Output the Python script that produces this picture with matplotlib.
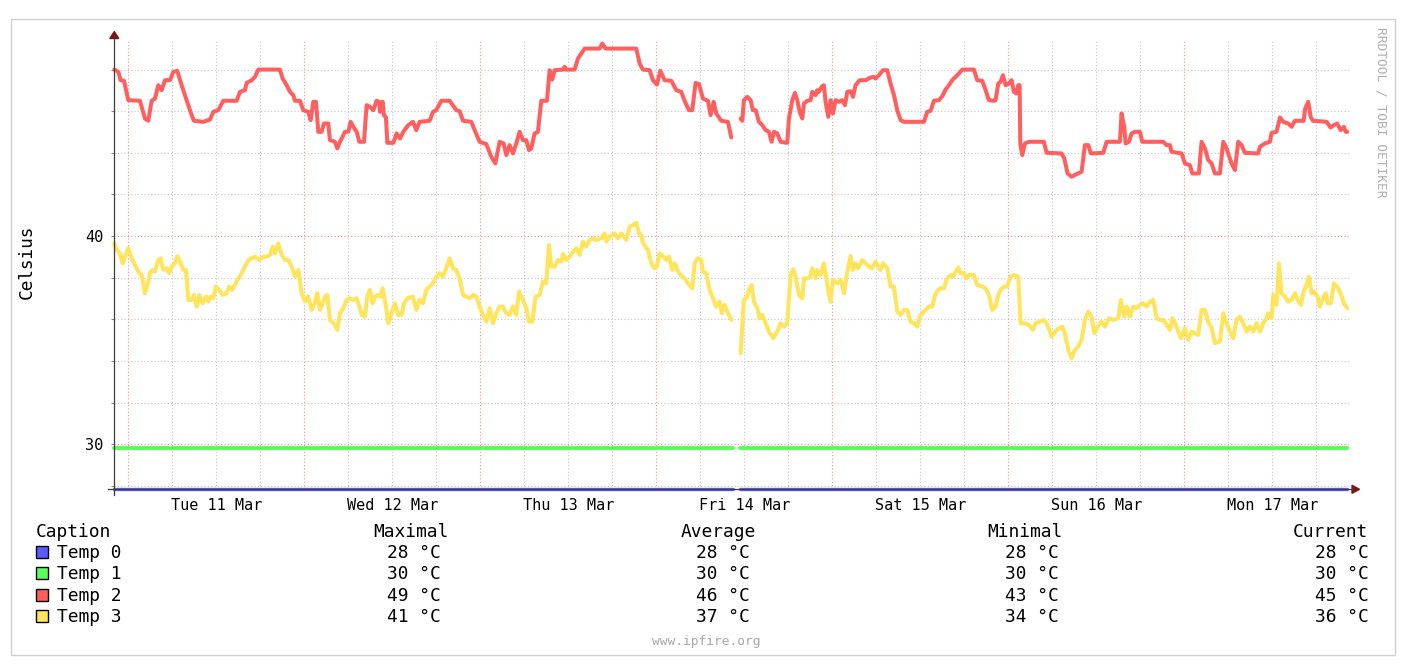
import numpy as np
import matplotlib
matplotlib.use("Agg")
import matplotlib.pyplot as plt
from matplotlib.patches import Rectangle, Polygon
from matplotlib.lines import Line2D

W, H = 1420, 664
GAP = np.nan

# hours since Tue 11 Mar 00:00, temperature in Celsius
temp0 = [(-1.91, 27.84), (82.45, 27.84), (82.9, GAP), (83.45, 27.84), (166.23, 27.84)]
temp1 = [(-1.91, 29.81), (82.45, 29.81), (82.9, GAP), (83.45, 29.81), (166.23, 29.81)]

temp2 = [
    (-1.91, 48.0), (-1.36, 47.89), (-1.05, 47.49), (-0.59, 47.46), (0.0, 46.53), (1.59, 46.5), (2.27, 45.65),
    (2.73, 45.54), (3.18, 46.5), (3.64, 46.61), (4.09, 47.25), (4.55, 47.01), (5.0, 47.49), (5.68, 47.49),
    (6.14, 47.89), (6.68, 47.94), (7.27, 47.25), (7.73, 46.77), (8.18, 46.29), (8.64, 45.81), (8.95, 45.54),
    (10.23, 45.49), (11.14, 45.6), (11.59, 45.97), (12.27, 46.05), (12.95, 46.5), (14.77, 46.5), (15.23, 46.93),
    (15.91, 47.01), (16.14, 47.36), (16.82, 47.49), (17.27, 47.65), (17.73, 48.0), (20.68, 48.0), (21.05, 47.57),
    (21.59, 47.25), (22.05, 46.93), (22.5, 46.77), (22.73, 46.5), (23.41, 46.5), (23.86, 46.05), (24.55, 45.97),
    (24.86, 45.57), (25.23, 46.45), (25.59, 46.45), (25.91, 45.01), (26.36, 45.01), (26.68, 45.41), (27.27, 45.41),
    (27.5, 44.61), (28.18, 44.53), (28.5, 44.21), (28.86, 44.53), (29.55, 45.01), (30.0, 45.01), (30.32, 45.49),
    (30.68, 45.25), (31.14, 45.01), (31.5, 44.53), (32.14, 44.53), (32.5, 46.29), (32.95, 46.21), (33.41, 46.05),
    (33.86, 46.5), (34.23, 46.45), (34.32, 45.97), (34.68, 46.45), (34.86, 45.81), (35.14, 45.7), (35.32, 44.48),
    (36.14, 44.48), (36.59, 44.93), (37.05, 44.69), (37.5, 45.01), (38.18, 45.33), (38.82, 45.49), (39.27, 45.09),
    (39.73, 45.49), (41.09, 45.54), (41.55, 45.97), (42.0, 46.05), (42.68, 46.5), (43.82, 46.5), (44.73, 46.05),
    (45.18, 46.0), (45.64, 45.54), (46.77, 45.49), (47.23, 45.09), (47.91, 44.53), (48.82, 44.42), (49.5, 43.81),
    (50.05, 43.49), (50.41, 44.13), (50.64, 44.53), (51.18, 44.45), (51.55, 43.89), (52.0, 44.37), (52.45, 43.97),
    (52.91, 44.45), (53.36, 45.01), (53.82, 44.61), (54.27, 44.61), (54.64, 44.13), (54.95, 44.21), (55.41, 44.93),
    (55.86, 45.01), (56.32, 46.5), (57.09, 46.5), (57.45, 47.97), (57.82, 47.52), (58.14, 47.97), (59.27, 48.0),
    (59.5, 48.13), (59.73, 48.0), (60.86, 48.0), (61.32, 48.53), (61.77, 48.77), (62.23, 49.01), (64.27, 49.01),
    (64.64, 49.25), (65.09, 49.01), (69.27, 49.01), (69.73, 48.29), (70.18, 48.0), (71.09, 47.97), (71.55, 47.49),
    (72.09, 47.28), (72.55, 47.94), (73.14, 47.49), (74.05, 47.46), (74.73, 47.01), (75.41, 46.93), (75.86, 46.5),
    (76.45, 46.05), (76.91, 46.05), (77.36, 47.36), (77.82, 47.3), (78.36, 46.61), (79.05, 46.5), (79.41, 45.81),
    (79.82, 46.45), (80.18, 45.89), (80.86, 45.54), (81.77, 45.49), (82.23, 44.74), (82.9, GAP),
    (83.5, 45.65), (83.73, 45.54), (83.95, 46.53), (84.41, 46.69), (84.86, 46.53), (85.18, 46.05), (85.55, 46.05),
    (86.0, 45.49), (86.45, 45.33), (86.91, 45.09), (87.36, 45.01), (87.73, 44.53), (88.05, 45.01), (88.5, 44.93),
    (88.95, 44.53), (89.86, 44.48), (90.09, 45.65), (90.55, 46.53), (90.91, 46.88), (91.23, 46.53), (91.55, 45.97),
    (91.91, 45.65), (92.14, 46.37), (92.59, 46.5), (93.05, 46.53), (93.27, 46.93), (93.73, 46.77), (93.95, 47.01),
    (94.18, 46.93), (94.55, 47.17), (94.86, 47.25), (95.09, 46.45), (95.45, 45.73), (95.77, 46.53), (96.09, 45.89),
    (96.45, 46.53), (96.91, 46.45), (97.36, 46.53), (97.73, 46.29), (98.05, 46.93), (98.5, 46.96), (98.82, 46.69),
    (99.18, 47.25), (99.73, 47.49), (100.55, 47.49), (101.23, 47.62), (101.68, 47.65), (101.91, 47.57),
    (102.36, 47.73), (102.91, 47.97), (103.5, 47.97), (103.95, 47.33), (104.41, 46.77), (104.86, 46.05),
    (105.32, 45.57), (105.77, 45.49), (108.5, 45.49), (108.95, 45.97), (109.41, 46.02), (109.86, 46.5),
    (110.55, 46.53), (111.0, 46.72), (111.45, 47.04), (111.91, 47.25), (112.36, 47.49), (112.82, 47.65),
    (113.27, 47.81), (113.73, 48.0), (115.32, 48.0), (115.77, 47.49), (116.45, 47.46), (116.91, 47.01),
    (117.36, 46.53), (118.05, 46.5), (118.27, 46.53), (118.64, 47.33), (118.95, 47.41), (119.27, 47.73),
    (119.64, 47.25), (120.09, 47.33), (120.45, 47.49), (120.77, 46.93), (121.09, 46.85), (121.36, 47.25),
    (121.55, 47.25), (121.64, 44.45), (121.91, 43.89), (122.27, 44.45), (122.82, 44.53), (124.86, 44.53),
    (125.23, 44.0), (127.27, 43.97), (127.64, 43.73), (128.09, 43.01), (128.64, 42.85), (129.32, 42.98),
    (130.0, 43.09), (130.45, 44.37), (130.91, 44.37), (131.27, 43.97), (132.95, 44.0), (133.41, 44.53),
    (135.23, 44.53), (135.45, 45.89), (135.82, 45.25), (136.0, 44.45), (136.45, 44.53), (136.82, 44.93),
    (137.27, 45.01), (137.95, 45.01), (138.27, 44.53), (141.14, 44.53), (141.59, 44.37), (142.05, 44.37),
    (142.27, 44.05), (143.64, 43.97), (144.09, 43.49), (144.77, 43.41), (145.09, 43.01), (146.0, 43.01),
    (146.36, 44.53), (146.82, 44.21), (147.27, 43.65), (147.73, 43.49), (148.18, 43.01), (148.86, 43.01),
    (149.32, 44.53), (149.77, 44.21), (150.45, 43.49), (150.91, 43.17), (151.36, 44.53), (151.82, 44.37),
    (152.27, 44.0), (154.09, 43.97), (154.32, 44.29), (155.0, 44.45), (155.68, 44.53), (155.91, 44.96),
    (156.59, 45.01), (157.05, 45.7), (157.5, 45.49), (158.18, 45.41), (158.64, 45.25), (159.09, 45.54),
    (160.27, 45.54), (160.5, 46.13), (160.91, 46.45), (161.23, 45.73), (161.55, 45.54), (163.41, 45.49),
    (163.95, 45.22), (164.41, 45.33), (164.86, 45.41), (165.32, 45.09), (165.77, 45.25), (166.0, 45.01),
    (166.23, 45.01),
]

temp3 = [
    (-1.91, 39.65), (-1.59, 39.33), (-1.14, 39.17), (-0.77, 38.69), (-0.45, 39.01), (0.0, 39.41), (0.45, 38.93),
    (0.91, 38.61), (1.36, 38.29), (1.82, 38.13), (2.27, 37.25), (2.73, 37.81), (2.95, 38.21), (3.32, 38.37),
    (3.64, 38.29), (4.09, 38.85), (4.41, 38.93), (4.77, 38.37), (5.23, 38.45), (5.59, 38.21), (5.91, 38.53),
    (6.36, 38.69), (6.68, 39.04), (7.05, 38.77), (7.5, 38.37), (7.86, 38.37), (8.18, 36.93), (8.64, 36.93),
    (8.95, 37.17), (9.32, 36.61), (9.68, 37.17), (10.14, 36.77), (10.59, 37.09), (10.91, 36.85), (11.23, 37.09),
    (11.59, 37.01), (11.95, 37.57), (12.41, 37.41), (12.86, 37.17), (13.41, 37.25), (13.77, 37.57), (14.09, 37.41),
    (14.55, 37.65), (15.0, 37.97), (15.45, 38.21), (15.91, 38.53), (16.36, 38.85), (16.82, 38.93), (17.27, 39.01),
    (17.86, 38.85), (18.41, 39.01), (18.86, 39.01), (19.32, 39.09), (19.68, 39.49), (20.0, 39.17), (20.45, 39.65),
    (20.91, 39.09), (21.36, 38.85), (21.82, 38.85), (22.27, 38.53), (22.73, 38.05), (23.18, 38.37), (23.64, 37.25),
    (24.09, 36.85), (24.55, 37.09), (25.0, 36.45), (25.45, 36.77), (25.77, 37.25), (26.14, 36.45), (26.5, 36.77),
    (26.82, 37.09), (27.14, 37.17), (27.5, 35.97), (27.95, 35.81), (28.18, 35.73), (28.5, 35.49), (28.86, 36.29),
    (29.32, 36.53), (29.77, 36.93), (30.23, 37.01), (30.68, 36.93), (31.14, 37.01), (31.5, 36.61), (31.82, 36.21),
    (32.27, 36.13), (32.59, 37.09), (32.95, 37.41), (33.32, 36.77), (33.64, 37.09), (34.09, 37.17), (34.41, 37.09),
    (34.68, 37.49), (35.14, 36.61), (35.45, 35.81), (35.91, 36.29), (36.36, 36.77), (36.82, 36.21), (37.27, 36.21),
    (37.59, 36.77), (38.05, 37.01), (38.82, 37.09), (39.27, 36.45), (39.73, 36.93), (40.18, 36.77), (40.64, 37.41),
    (41.09, 37.57), (41.55, 37.73), (42.0, 38.05), (42.45, 38.21), (42.91, 38.05), (43.36, 38.45), (43.82, 38.93),
    (44.27, 38.45), (44.73, 38.37), (45.18, 37.97), (45.64, 37.17), (46.09, 37.09), (46.55, 37.01), (47.0, 37.17),
    (47.45, 37.09), (47.91, 36.61), (48.36, 36.21), (48.82, 35.89), (49.27, 36.53), (49.73, 35.81), (50.18, 36.29),
    (50.64, 36.61), (51.09, 36.61), (51.55, 36.29), (52.0, 36.21), (52.45, 36.61), (52.91, 36.21), (53.27, 37.33),
    (53.82, 36.93), (54.27, 36.53), (54.64, 35.89), (55.09, 35.89), (55.55, 37.09), (56.09, 37.17), (56.55, 37.81),
    (57.0, 37.73), (57.36, 39.57), (57.68, 38.53), (58.14, 38.53), (58.59, 38.85), (59.05, 38.77), (59.27, 39.14),
    (59.73, 38.85), (60.18, 39.01), (60.64, 39.25), (61.09, 39.41), (61.55, 39.09), (62.0, 39.73), (62.45, 39.49),
    (62.91, 39.81), (63.36, 39.89), (63.82, 39.81), (64.5, 39.89), (64.95, 40.13), (65.18, 39.73), (65.64, 39.97),
    (66.32, 40.13), (66.77, 39.89), (67.23, 40.13), (67.91, 39.81), (68.36, 40.45), (68.82, 40.53), (69.27, 40.64),
    (69.64, 40.13), (69.95, 40.05), (70.18, 39.65), (70.86, 39.33), (71.32, 38.69), (71.77, 38.45), (72.09, 38.53),
    (72.45, 39.17), (73.0, 39.01), (73.36, 38.85), (73.73, 39.01), (74.18, 38.37), (74.5, 38.69), (74.86, 38.37),
    (75.27, 38.13), (75.86, 37.97), (76.32, 37.73), (76.91, 37.49), (77.23, 38.69), (77.68, 38.93), (78.14, 38.85),
    (78.36, 38.29), (78.82, 38.21), (79.27, 37.41), (79.82, 36.93), (80.18, 36.61), (80.64, 36.85), (80.95, 36.29),
    (81.32, 36.69), (81.77, 36.29), (82.23, 35.97), (82.9, GAP),
    (83.5, 34.37), (83.95, 36.93), (84.41, 37.09), (84.64, 37.41), (85.0, 37.65), (85.32, 36.85), (85.77, 36.53),
    (86.09, 36.05), (86.45, 36.21), (86.91, 35.81), (87.36, 35.41), (87.95, 35.09), (88.5, 35.41), (88.95, 35.81),
    (89.41, 35.65), (89.86, 35.81), (90.32, 38.13), (90.68, 38.4), (91.0, 38.05), (91.45, 37.17), (91.91, 37.01),
    (92.14, 37.97), (92.82, 37.97), (93.05, 38.13), (93.27, 38.45), (93.73, 37.97), (93.95, 38.37), (94.41, 38.13),
    (94.86, 38.69), (95.09, 38.21), (95.45, 37.41), (95.77, 36.85), (96.09, 37.89), (96.68, 37.73), (97.14, 37.89),
    (97.59, 37.25), (98.05, 38.29), (98.5, 39.04), (98.82, 38.37), (99.18, 38.69), (99.55, 38.45), (100.09, 38.85),
    (100.55, 38.69), (101.0, 38.53), (101.45, 38.45), (101.91, 38.77), (102.59, 38.37), (102.91, 38.69),
    (103.5, 38.45), (103.95, 37.57), (104.41, 37.57), (104.86, 36.37), (105.32, 36.21), (105.77, 36.45),
    (106.23, 36.45), (106.68, 35.89), (107.14, 35.81), (107.59, 35.65), (108.05, 36.21), (108.73, 36.45),
    (109.18, 36.61), (109.64, 36.61), (110.0, 37.17), (110.45, 37.41), (110.77, 37.49), (111.23, 37.49),
    (111.68, 37.97), (112.14, 38.13), (112.45, 38.05), (112.82, 38.29), (113.18, 38.5), (113.5, 38.21),
    (113.95, 38.21), (114.27, 37.97), (114.64, 38.13), (115.32, 38.13), (115.77, 37.65), (116.45, 37.57),
    (116.91, 37.49), (117.36, 37.17), (117.82, 36.45), (118.27, 36.61), (118.64, 37.17), (118.95, 37.41),
    (119.41, 37.57), (119.86, 37.57), (120.32, 38.05), (120.77, 38.13), (121.36, 38.05), (121.68, 35.81),
    (122.27, 35.81), (122.82, 35.73), (123.36, 35.49), (123.73, 35.81), (124.41, 35.89), (124.86, 35.97),
    (125.23, 35.81), (125.68, 35.41), (125.91, 35.17), (126.59, 35.49), (127.36, 35.65), (127.73, 35.33),
    (128.18, 34.53), (128.64, 34.13), (129.09, 34.53), (129.55, 34.69), (130.0, 35.01), (130.45, 35.97),
    (130.91, 36.37), (131.36, 36.13), (131.73, 35.33), (132.18, 35.65), (132.73, 35.89), (133.18, 35.65),
    (133.73, 36.05), (134.32, 35.97), (135.0, 36.05), (135.36, 36.93), (135.82, 36.13), (136.14, 36.61),
    (136.59, 36.13), (137.05, 36.61), (137.5, 36.53), (137.95, 36.69), (138.41, 36.77), (138.86, 36.61),
    (139.32, 36.85), (139.77, 36.93), (140.23, 36.05), (140.68, 35.97), (141.14, 35.97), (141.59, 35.73),
    (142.05, 35.49), (142.36, 36.05), (142.73, 35.81), (143.18, 35.41), (143.55, 35.09), (144.09, 35.57),
    (144.55, 35.01), (145.0, 35.41), (145.45, 35.33), (145.91, 35.25), (146.36, 36.45), (146.82, 36.45),
    (147.27, 35.89), (147.73, 35.57), (148.18, 34.85), (148.86, 34.93), (149.32, 36.29), (149.77, 35.81),
    (150.23, 35.41), (150.68, 35.09), (151.14, 35.97), (151.59, 36.13), (152.05, 35.81), (152.5, 35.41),
    (152.95, 35.65), (153.41, 35.41), (153.86, 35.81), (154.32, 35.41), (154.77, 35.81), (155.23, 36.05),
    (155.45, 36.29), (155.91, 36.05), (156.14, 37.17), (156.59, 36.69), (156.91, 38.69), (157.27, 37.25),
    (157.73, 37.09), (158.18, 36.85), (158.64, 36.93), (159.09, 37.25), (159.45, 36.93), (159.91, 36.69),
    (160.27, 37.33), (160.59, 37.57), (161.0, 38.05), (161.36, 37.25), (161.73, 37.33), (162.18, 37.09),
    (162.5, 36.61), (162.95, 37.01), (163.27, 37.25), (163.55, 36.77), (164.0, 36.77), (164.41, 37.73),
    (164.86, 37.57), (165.32, 37.25), (165.77, 36.77), (166.23, 36.53),
]

series_names = ["Temp 0", "Temp 1", "Temp 2", "Temp 3"]
series_colors = ["#5a5aff", "#5aff5a", "#ff5f5f", "#ffe45c"]
series_widths = [2.4, 2.9, 2.9, 2.9]
temp_max = [28, 30, 49, 41]
temp_avg = [28, 30, 46, 37]
temp_min = [28, 30, 43, 34]
temp_cur = [28, 30, 45, 36]

day_ticks = [12, 36, 60, 84, 108, 132, 156]
day_labels = ["Tue 11 Mar", "Wed 12 Mar", "Thu 13 Mar", "Fri 14 Mar",
              "Sat 15 Mar", "Sun 16 Mar", "Mon 17 Mar"]

plt.rcParams['font.family'] = ['DejaVu Sans Mono']


def fx(px):
    return px / W


def fy(py):
    return 1 - py / H


fig = plt.figure(figsize=(W / 100, H / 100), dpi=100)
fig.patch.set_facecolor('white')

# plot area
ax_l, ax_r, ax_t, ax_b = 114.3, 1351.0, 39.0, 489.3
ax = fig.add_axes([fx(ax_l), fy(ax_b), (ax_r - ax_l) / W, (ax_b - ax_t) / H])
ax.set_xlim(-1.91, 166.74)
ax.set_ylim(27.83, 49.47)
for s in ax.spines.values():
    s.set_visible(False)

# grid
dots = (0, (1, 2))
for y in range(28, 50, 2):
    c = '#f09090' if y in (30, 40) else '#c4c4c4'
    ax.axhline(y, color=c, lw=0.8, ls=dots, zorder=0)
for h in range(0, 167, 6):
    c = '#f09090' if h % 24 == 0 else '#c4c4c4'
    ax.axvline(h, color=c, lw=0.8, ls=dots, zorder=0)

for pts, col, lw in zip([temp0, temp1, temp2, temp3], series_colors, series_widths):
    hrs = [p[0] for p in pts]
    vals = [p[1] for p in pts]
    ax.plot(hrs, vals, color=col, lw=lw, solid_joinstyle='round', solid_capstyle='round',
            zorder=2, clip_on=False)

ax.set_yticks(range(28, 50, 2))
ax.set_yticklabels([str(y) if y in (30, 40) else '' for y in range(28, 50, 2)])
ax.tick_params(axis='y', length=2.2, width=0.8, color='#888888', pad=5.8, labelsize=11)
ax.set_xticks(day_ticks)
ax.set_xticklabels(day_labels)
ax.tick_params(axis='x', length=0, pad=6, labelsize=11)

# axis lines and arrows
ax_col = '#3c3c3c'
arr_col = '#7a1616'
fig.add_artist(Line2D([fx(ax_l), fx(ax_l)], [fy(495), fy(37)], color=ax_col, lw=0.9))
fig.add_artist(Line2D([fx(108), fx(1353)], [fy(ax_b), fy(ax_b)], color=ax_col, lw=0.9))
fig.add_artist(Polygon([(fx(ax_l - 4.5), fy(38.5)), (fx(ax_l + 4.5), fy(38.5)), (fx(ax_l), fy(31.5))],
                       closed=True, color=arr_col, transform=fig.transFigure))
fig.add_artist(Polygon([(fx(1352), fy(ax_b - 4)), (fx(1352), fy(ax_b + 4)), (fx(1359.5), fy(ax_b))],
                       closed=True, color=arr_col, transform=fig.transFigure))

# outer frame
fig.add_artist(Rectangle((fx(10.5), fy(655)), (1395 - 10.5) / W, (655 - 18.5) / H, fill=False,
                         edgecolor='#d0d0d0', lw=1, transform=fig.transFigure))

fig.text(fx(27), fy(262), 'Celsius', rotation=90, ha='center', va='center', fontsize=12.8)
fig.text(fx(1381), fy(27), 'RRDTOOL / TOBI OETIKER', rotation=-90, ha='center', va='top',
         fontsize=9.3, color='#b0b0b0')
fig.text(fx(706), fy(641), 'www.ipfire.org', ha='center', va='center', fontsize=9.3, color='#a8a8a8')

# legend table
fs = 12.9
fig.text(fx(36), fy(536.7), 'Caption', ha='left', va='baseline', fontsize=fs)
head_x = [448.5, 756, 1062.5, 1368.5]
val_x = [441, 750, 1058.3, 1368.3]
for hx, head in zip(head_x, ['Maximal', 'Average', 'Minimal', 'Current']):
    fig.text(fx(hx), fy(536.7), head, ha='right', va='baseline', fontsize=fs)

row_y = [557.7, 579.3, 600.7, 622.3]
for i, name in enumerate(series_names):
    yb = row_y[i]
    fig.add_artist(Rectangle((fx(36), fy(yb)), 12 / W, 12 / H, facecolor=series_colors[i],
                             edgecolor='black', lw=1, transform=fig.transFigure))
    fig.text(fx(57), fy(yb), name, ha='left', va='baseline', fontsize=fs)
    for vx, col in zip(val_x, [temp_max, temp_avg, temp_min, temp_cur]):
        fig.text(fx(vx), fy(yb), f"{col[i]} °C", ha='right', va='baseline', fontsize=fs)

fig.savefig('out.png', dpi=100)
